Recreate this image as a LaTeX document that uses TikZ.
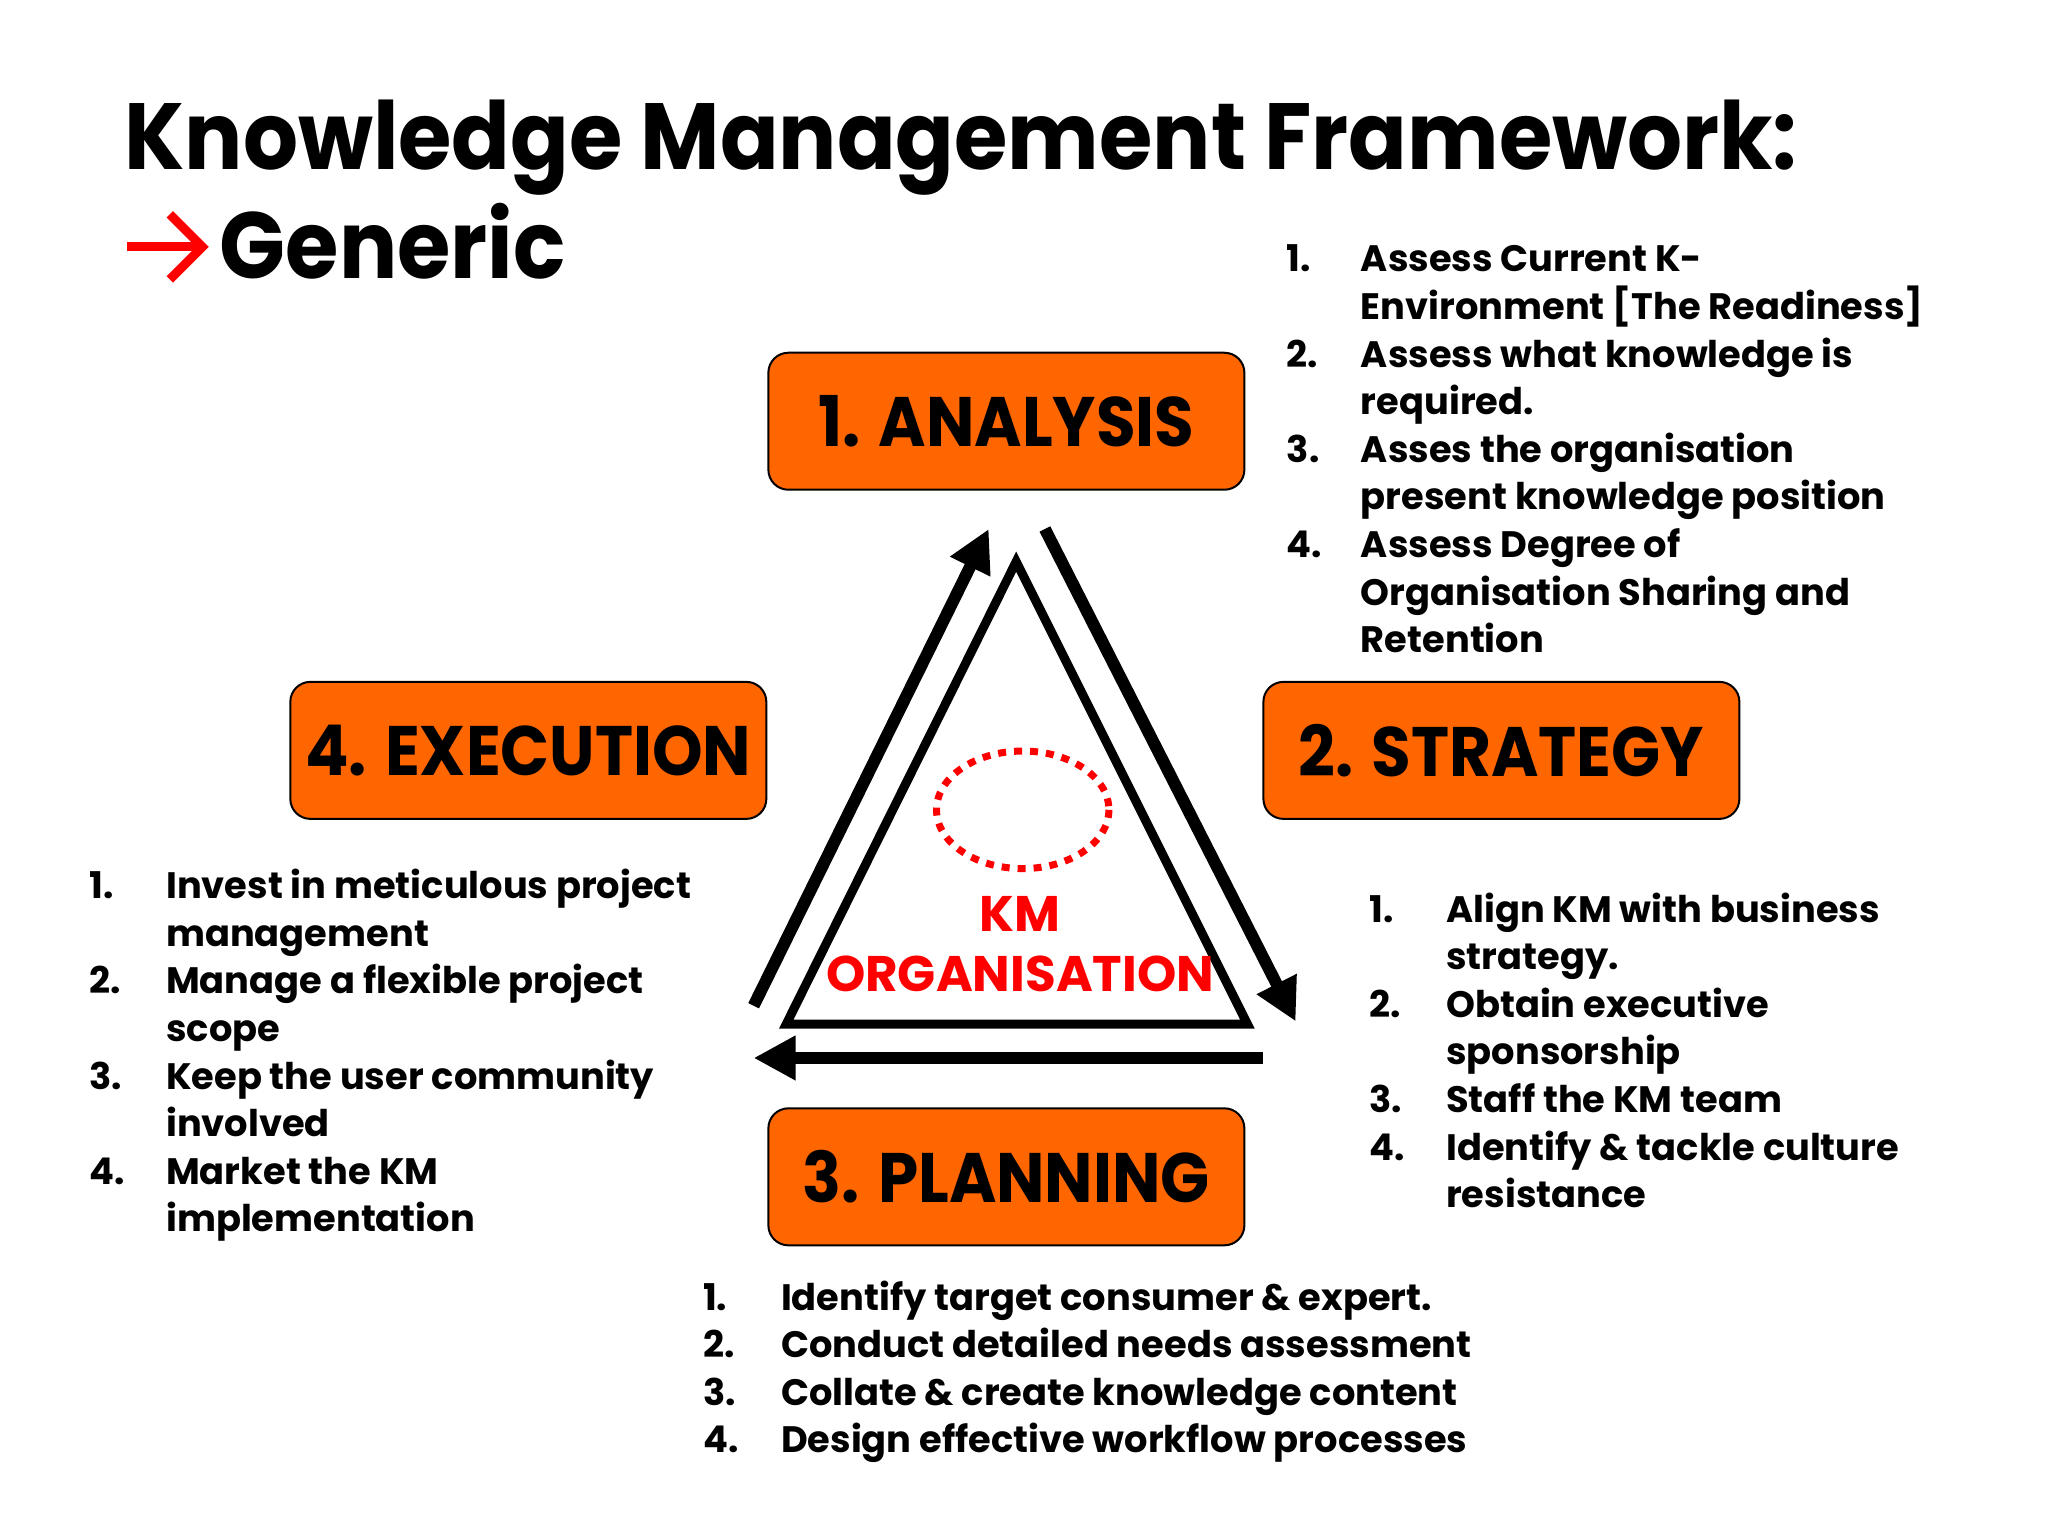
\documentclass[tikz,border=0pt]{standalone}
\usepackage{fontspec}
\setmainfont{Poppins}
\newfontfamily\narrowpop{Poppins}[FakeStretch=0.92]
\usetikzlibrary{arrows.meta}
\definecolor{boxorange}{HTML}{FF6600}
\definecolor{kmred}{HTML}{FF0000}
\tikzset{
  stagebox/.style={draw=black, line width=1pt, fill=boxorange, rounded corners=10pt,
    minimum width=238pt, minimum height=68.5pt, inner sep=0pt,
    font=\narrowpop\fontsize{35}{40}\selectfont\bfseries},
  titletext/.style={anchor=base west, inner sep=0pt, font=\narrowpop\fontsize{47}{56}\selectfont\bfseries},
  listtext/.style={anchor=base west, inner sep=0pt, font=\fontsize{18.4}{23.8}\selectfont\bfseries},
  bigarrow/.style={line width=6pt, -{Triangle[length=21pt, width=21pt]}},
}
\begin{document}
\begin{tikzpicture}[x=0.65306pt, y=-0.65306pt]
\useasboundingbox (0,0) rectangle (1568,1176);
\fill[white] (0,0) rectangle (1568,1176);
% title
\node[titletext] (title) at (95,130) {Knowledge Management Framework:};
\node[titletext] (generic) at (168,213) {Generic};
\coordinate (gaL) at (97,189);
\coordinate (gaR) at (154,189);
\draw[kmred, line width=4.5pt] (gaL) -- (gaR);
\draw[kmred, line width=4.5pt, line join=miter] (130,164) -- (155,189) -- (130,214);
% stage boxes
\node[stagebox] (analysis) at (770.5,322.5) {1. ANALYSIS};
\node[stagebox] (strategy) at (1149.5,574.5) {2. STRATEGY};
\node[stagebox] (planning) at (770.5,901) {3. PLANNING};
\node[stagebox] (execution) at (404.5,574.5) {4. EXECUTION};
% triangle
\coordinate (tA) at (778,430);
\coordinate (tL) at (602,784);
\coordinate (tR) at (955,784);
\draw[line width=4.5pt, line join=miter] (tA) -- (tR) -- (tL) -- cycle;
% dotted ellipse
\draw[kmred, line width=3.5pt, dash pattern=on 4pt off 4pt] (783,620) ellipse [x radius=66, y radius=45];
\node[kmred, inner sep=0pt, align=center, font=\fontsize{25}{30}\selectfont\bfseries] (km) at (781,723) {KM\\ORGANISATION};
% arrows
\coordinate (a1s) at (577,770);
\coordinate (a1e) at (757,405);
\coordinate (a2s) at (800,405);
\coordinate (a2e) at (992,782);
\coordinate (a3s) at (967,810);
\coordinate (a3e) at (577,810);
\draw[bigarrow] (a1s) -- (a1e);
\draw[bigarrow] (a2s) -- (a2e);
\draw[bigarrow] (a3s) -- (a3e);
% lists
\node[listtext] (alist) at (985,208) {\begin{tabular}[t]{@{}p{37pt}@{}l@{}}
1. & Assess Current K-\\
 & Environment [The Readiness]\\
2. & Assess what knowledge is\\
 & required.\\
3. & Asses the organisation\\
 & present knowledge position\\
4. & Assess Degree of\\
 & Organisation Sharing and\\
 & Retention
\end{tabular}};
\node[listtext] (elist) at (68,688) {\begin{tabular}[t]{@{}p{38.5pt}@{}l@{}}
1. & Invest in meticulous project\\
 & management\\
2. & Manage a flexible project\\
 & scope\\
3. & Keep the user community\\
 & involved\\
4. & Market the KM\\
 & implementation
\end{tabular}};
\node[listtext] (slist) at (1048,706) {\begin{tabular}[t]{@{}p{38.5pt}@{}l@{}}
1. & Align KM with business\\
 & strategy.\\
2. & Obtain executive\\
 & sponsorship\\
3. & Staff the KM team\\
4. & Identify \& tackle culture\\
 & resistance
\end{tabular}};
\node[listtext] (plist) at (538,1003) {\begin{tabular}[t]{@{}p{39pt}@{}l@{}}
1. & Identify target consumer \& expert.\\
2. & Conduct detailed needs assessment\\
3. & Collate \& create knowledge content\\
4. & Design effective workflow processes
\end{tabular}};
\end{tikzpicture}
\end{document}
